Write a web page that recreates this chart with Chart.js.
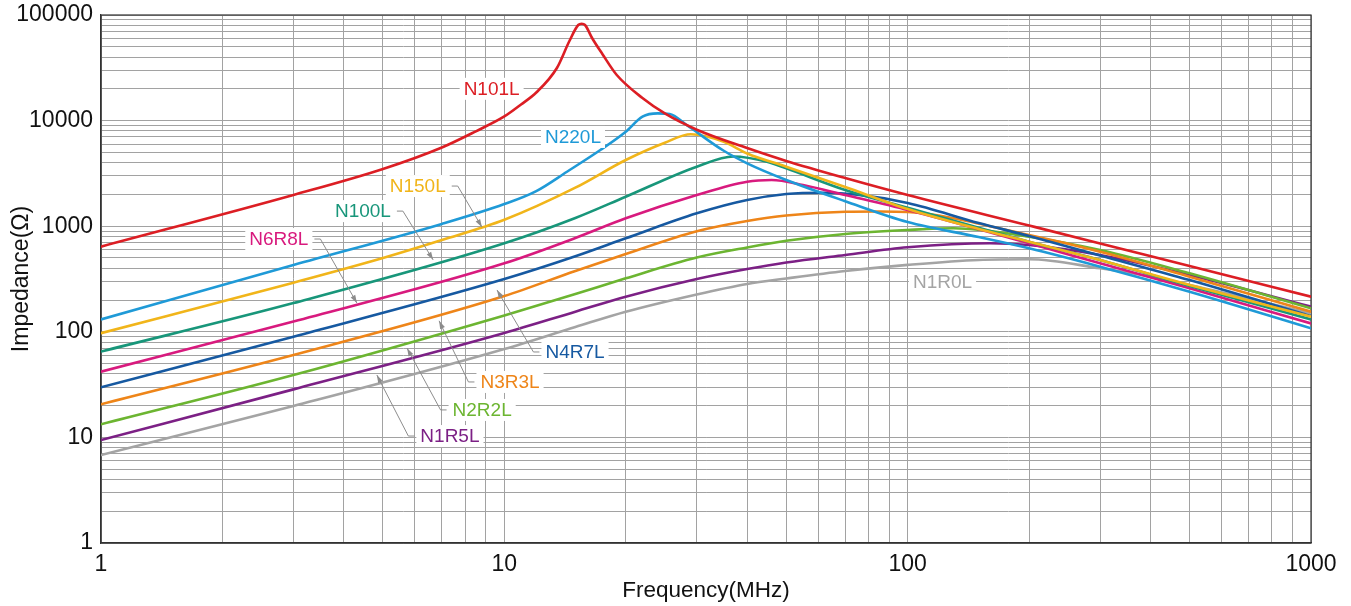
<!DOCTYPE html>
<html>
<head>
<meta charset="utf-8">
<title>Impedance vs Frequency</title>
<script src="https://cdn.jsdelivr.net/npm/chart.js@4.4.1/dist/chart.umd.min.js"></script>
<style>
    html, body { margin: 0; padding: 0; background: #ffffff; }
    #chart { display: block; }
</style>
</head>
<body>
<canvas id="chart" width="1351" height="606"></canvas>
<script>
// Axis decades (tick labels)
const xDecades = [1, 10, 100, 1000];
const yDecades = [1, 10, 100, 1000, 10000, 100000];

// Impedance curves: frequency (MHz) / impedance (ohm)
const n101lFreq = [1, 3, 5, 7, 8.5, 10, 11, 12, 13.5, 14.5, 15.25, 15.55, 15.85, 16.5, 17.5, 19, 22, 25, 30, 40, 50, 70, 100, 200, 300, 500, 1000];
const n101lZ    = [640, 1975, 3480, 5563, 7920, 10940, 14200, 18450, 31490, 56730, 80400, 82500, 80400, 60560, 42720, 27030, 16370, 11680, 8200, 5502, 4153, 2861, 1975, 1015, 687, 419, 215];

const n220lFreq = [1, 3, 7, 10, 12, 14.3, 17.3, 20, 22, 24, 25.7, 28.3, 35, 40, 50, 70, 100, 150, 200, 300, 500, 1000];
const n220lZ    = [131, 429, 1050, 1620, 2150, 3280, 5266, 7850, 10900, 11700, 11550, 9090, 5180, 3940, 2740, 1725, 1096, 790, 618, 414, 240, 108];

const n150lFreq = [1, 3, 5, 7, 10, 15, 20, 25, 29, 35, 40, 50, 70, 100, 150, 200, 300, 500, 1000];
const n150lZ    = [97, 292, 500, 740, 1150, 2315, 4236, 6176, 7420, 6300, 4880, 3660, 2350, 1455, 941, 713, 478, 278, 139];

const n100lFreq = [1, 3, 10, 15, 20, 30, 37, 45, 50, 70, 100, 200, 300, 500, 1000];
const n100lZ    = [65, 187, 689, 1196, 1902, 3660, 4570, 4055, 3535, 2202, 1497, 713, 478, 272, 131];

const n6r8lFreq = [1, 3, 10, 15, 20, 30, 40, 46, 55, 70, 100, 200, 300, 500, 1000];
const n6r8lZ    = [41.9, 125, 445, 773, 1188, 1975, 2639, 2738, 2456, 1975, 1424, 689, 445, 258, 120];

const n4r7lFreq = [1, 3, 10, 15, 20, 30, 40, 50, 62, 75, 100, 150, 200, 300, 500, 1000];
const n4r7lZ    = [29.8, 89.9, 316, 519, 768, 1325, 1771, 2018, 2076, 1990, 1659, 1072, 808, 528, 309, 141];

const n3r3lFreq = [1, 3, 10, 15, 20, 30, 40, 50, 70, 85, 100, 200, 300, 500, 1000];
const n3r3lZ    = [20.6, 60.3, 218, 377, 545, 895, 1120, 1263, 1372, 1380, 1363, 825, 574, 333, 155];

const n2r2lFreq = [1, 3, 10, 15, 20, 30, 40, 50, 70, 100, 130, 200, 300, 500, 1000];
const n2r2lZ    = [13.3, 39, 143, 228, 321, 505, 629, 727, 844, 920, 955, 796, 595, 358, 167];

const n1r5lFreq = [1, 3, 10, 15, 20, 30, 40, 50, 70, 100, 160, 200, 300, 500, 1000];
const n1r5lZ    = [9.45, 28.5, 97.4, 155, 215, 316, 393, 453, 534, 631, 689, 664, 534, 345, 173];

const n1r0lFreq = [1, 3, 10, 15, 20, 30, 40, 50, 70, 100, 150, 200, 300, 400, 500, 1000];
const n1r0lZ    = [6.8, 19.8, 68.7, 111, 155, 226, 284, 320, 377, 430, 479, 486, 399, 333, 278, 150];

// Colours
const colors = {
    n101l: '#DC1E24',
    n220l: '#1F9AD7',
    n150l: '#F1B51A',
    n100l: '#18967A',
    n6r8l: '#D81A7E',
    n4r7l: '#1659A1',
    n3r3l: '#EE8519',
    n2r2l: '#6CB531',
    n1r5l: '#7C2085',
    n1r0l: '#A4A4A4'
};

// Series table (top entry draws on top)
const series = [
    { name: 'N101L', key: 'n101l', freq: n101lFreq, z: n101lZ },
    { name: 'N220L', key: 'n220l', freq: n220lFreq, z: n220lZ },
    { name: 'N150L', key: 'n150l', freq: n150lFreq, z: n150lZ },
    { name: 'N100L', key: 'n100l', freq: n100lFreq, z: n100lZ },
    { name: 'N6R8L', key: 'n6r8l', freq: n6r8lFreq, z: n6r8lZ },
    { name: 'N4R7L', key: 'n4r7l', freq: n4r7lFreq, z: n4r7lZ },
    { name: 'N3R3L', key: 'n3r3l', freq: n3r3lFreq, z: n3r3lZ },
    { name: 'N2R2L', key: 'n2r2l', freq: n2r2lFreq, z: n2r2lZ },
    { name: 'N1R5L', key: 'n1r5l', freq: n1r5lFreq, z: n1r5lZ },
    { name: 'N1R0L', key: 'n1r0l', freq: n1r0lFreq, z: n1r0lZ }
];

// Curve name labels: where the text sits and where its leader arrow points (data coords)
const curveLabels = [
    { key: 'n101l', text: 'N101L', at: [9.3, 20000] },
    { key: 'n220l', text: 'N220L', at: [14.8, 7000] },
    { key: 'n150l', text: 'N150L', at: [6.1, 2400], side: 'right', tip: [8.8, 980] },
    { key: 'n100l', text: 'N100L', at: [4.46, 1390], side: 'right', tip: [6.66, 480] },
    { key: 'n6r8l', text: 'N6R8L', at: [2.76, 756], side: 'right', tip: [4.31, 187] },
    { key: 'n4r7l', text: 'N4R7L', at: [14.97, 64.4], side: 'left', tip: [9.59, 249] },
    { key: 'n3r3l', text: 'N3R3L', at: [10.33, 33.5], side: 'left', tip: [6.89, 127] },
    { key: 'n2r2l', text: 'N2R2L', at: [8.81, 18.2], side: 'left', tip: [5.74, 70] },
    { key: 'n1r5l', text: 'N1R5L', at: [7.33, 10.3], side: 'left', tip: [4.83, 39] },
    { key: 'n1r0l', text: 'N1R0L', at: [122, 295] }
];

// 1..9 x 10^n grid values between the decades
function gridValues(decades) {
    const out = [];
    for (let i = 0; i < decades.length - 1; i++) {
        for (let m = 1; m < 10; m++) {
            out.push(decades[i] * m);
        }
    }
    out.push(decades[decades.length - 1]);
    return out;
}

const FONT = '"Liberation Sans", Arial, Helvetica, sans-serif';
Chart.defaults.font.family = FONT;
Chart.defaults.color = '#111111';

// Frame round the plot area
const framePlugin = {
    id: 'frame',
    beforeDatasetsDraw(chart) {
        const { ctx, chartArea: a } = chart;
        ctx.save();
        ctx.strokeStyle = '#333333';
        ctx.lineWidth = 1.2;
        ctx.strokeRect(a.left, a.top, a.right - a.left, a.bottom - a.top);
        ctx.restore();
    }
};

// Curve name labels with white boxes and grey leader arrows
const labelPlugin = {
    id: 'curveLabels',
    afterDatasetsDraw(chart) {
        const { ctx } = chart;
        const xs = chart.scales.x;
        const ys = chart.scales.y;
        ctx.save();
        ctx.font = '19px ' + FONT;
        ctx.textAlign = 'center';
        ctx.textBaseline = 'middle';

        curveLabels.forEach(lab => {
            const cx = xs.getPixelForValue(lab.at[0]);
            const cy = ys.getPixelForValue(lab.at[1]);
            const w = ctx.measureText(lab.text).width;

            if (lab.side) {
                const dir = lab.side === 'right' ? 1 : -1;
                const sx = cx + dir * (w / 2 + 6);
                const kx = sx + dir * 6;
                const tx = xs.getPixelForValue(lab.tip[0]);
                const ty = ys.getPixelForValue(lab.tip[1]);
                ctx.strokeStyle = '#8c8c8c';
                ctx.fillStyle = '#8c8c8c';
                ctx.lineWidth = 1;
                ctx.beginPath();
                ctx.moveTo(sx, cy);
                ctx.lineTo(kx, cy);
                ctx.lineTo(tx, ty);
                ctx.stroke();
                // arrow head
                const ang = Math.atan2(ty - cy, tx - kx);
                const len = 8, half = 2.6;
                ctx.beginPath();
                ctx.moveTo(tx, ty);
                ctx.lineTo(tx - len * Math.cos(ang) + half * Math.sin(ang), ty - len * Math.sin(ang) - half * Math.cos(ang));
                ctx.lineTo(tx - len * Math.cos(ang) - half * Math.sin(ang), ty - len * Math.sin(ang) + half * Math.cos(ang));
                ctx.closePath();
                ctx.fill();
            }

            ctx.fillStyle = '#ffffff';
            ctx.fillRect(cx - w / 2 - 4, cy - 11, w + 8, 22);
            ctx.fillStyle = colors[lab.key];
            ctx.fillText(lab.text, cx, cy + 1);
        });
        ctx.restore();
    }
};

const datasets = series.map(s => ({
    label: s.name,
    data: s.freq.map((f, i) => ({ x: f, y: s.z[i] })),
    borderColor: colors[s.key],
    backgroundColor: colors[s.key],
    borderWidth: 2.6,
    pointRadius: 0,
    cubicInterpolationMode: 'monotone',
    borderJoinStyle: 'round',
    borderCapStyle: 'round',
    fill: false
}));

new Chart(document.getElementById('chart').getContext('2d'), {
    type: 'line',
    data: { datasets: datasets },
    options: {
        responsive: false,
        animation: false,
        devicePixelRatio: 1,
        layout: { padding: { left: 0, right: 40, top: 15, bottom: 0 } },
        plugins: {
            legend: { display: false },
            tooltip: { enabled: false }
        },
        scales: {
            x: {
                type: 'logarithmic',
                min: 1,
                max: 1000,
                afterBuildTicks: axis => {
                    axis.ticks = gridValues(xDecades).map(v => ({ value: v }));
                },
                afterFit: axis => { axis.height = 63; },
                grid: { color: '#a2a2a2', lineWidth: 1, drawTicks: false },
                border: { display: true, color: '#333333', width: 1.2 },
                ticks: {
                    autoSkip: false,
                    maxRotation: 0,
                    padding: 8,
                    color: '#111111',
                    font: { size: 23 },
                    callback: value => xDecades.includes(value) ? String(value) : ''
                },
                title: {
                    display: true,
                    text: 'Frequency(MHz)',
                    color: '#111111',
                    font: { size: 22.5 },
                    padding: { top: 0, bottom: 2 }
                }
            },
            y: {
                type: 'logarithmic',
                min: 1,
                max: 100000,
                afterBuildTicks: axis => {
                    axis.ticks = gridValues(yDecades).map(v => ({ value: v }));
                },
                afterFit: axis => {
                    axis.width = 101;
                    axis.paddingTop = 0;
                    axis.paddingBottom = 0;
                },
                grid: { color: '#a2a2a2', lineWidth: 1, drawTicks: false },
                border: { display: true, color: '#333333', width: 1.2 },
                ticks: {
                    autoSkip: false,
                    padding: 8,
                    color: '#111111',
                    font: { size: 23 },
                    callback: value => yDecades.includes(value) ? String(value) : ''
                },
                title: {
                    display: true,
                    text: 'Impedance(Ω)',
                    color: '#111111',
                    font: { size: 23 },
                    padding: { top: 8, bottom: 0 }
                }
            }
        }
    },
    plugins: [framePlugin, labelPlugin]
});
</script>
</body>
</html>
